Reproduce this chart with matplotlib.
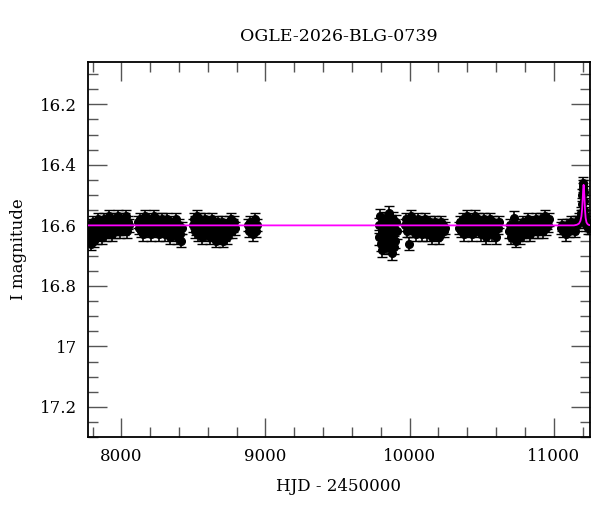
import matplotlib
matplotlib.use("Agg")
import matplotlib.pyplot as plt
from matplotlib.ticker import MultipleLocator
import numpy as np

# photometry, one list per observing season (HJD - 2450000, I mag)
t1 = [7772, 7778, 7783, 7789, 7794, 7800, 7805, 7811, 7817, 7822, 7828, 7834, 7839, 7845, 7851, 7856, 7862,
      7868, 7873, 7879, 7885, 7890, 7896, 7902, 7907, 7913, 7919, 7924, 7930, 7936, 7941, 7947, 7953, 7958,
      7964, 7970, 7975, 7981, 7987, 7992, 7998, 8004, 8010, 8016, 8022, 8028, 8034, 8040, 8046, 8052]
m1 = [16.62, 16.64, 16.60, 16.66, 16.61, 16.63, 16.59, 16.65, 16.62, 16.60, 16.64, 16.61, 16.58, 16.63, 16.60,
      16.62, 16.59, 16.64, 16.61, 16.58, 16.62, 16.60, 16.63, 16.59, 16.61, 16.57, 16.62, 16.60, 16.58, 16.63,
      16.60, 16.61, 16.58, 16.62, 16.59, 16.60, 16.57, 16.61, 16.59, 16.62, 16.58, 16.60, 16.59, 16.61, 16.58,
      16.60, 16.57, 16.62, 16.59, 16.60]
t2 = [8118, 8124, 8131, 8138, 8144, 8151, 8158, 8164, 8171, 8178, 8184, 8191, 8198, 8204, 8211, 8218, 8224,
      8231, 8238, 8244, 8251, 8258, 8264, 8271, 8278, 8284, 8291, 8298, 8304, 8311, 8318, 8324, 8331, 8338,
      8344, 8351, 8358, 8364, 8371, 8378, 8384, 8391, 8398, 8405, 8412, 8418]
m2 = [16.59, 16.61, 16.58, 16.62, 16.60, 16.63, 16.59, 16.57, 16.61, 16.60, 16.62, 16.58, 16.60, 16.63, 16.59,
      16.61, 16.57, 16.62, 16.60, 16.58, 16.61, 16.63, 16.59, 16.60, 16.62, 16.58, 16.61, 16.59, 16.63, 16.60,
      16.58, 16.62, 16.60, 16.64, 16.59, 16.61, 16.63, 16.60, 16.62, 16.58, 16.64, 16.61, 16.60, 16.63, 16.65,
      16.61]
t3 = [8494, 8501, 8508, 8514, 8521, 8528, 8534, 8541, 8548, 8554, 8561, 8568, 8574, 8581, 8588, 8594, 8601,
      8608, 8614, 8621, 8628, 8634, 8641, 8648, 8654, 8661, 8668, 8674, 8681, 8688, 8694, 8701, 8708, 8714,
      8721, 8728, 8734, 8741, 8748, 8754, 8761, 8768, 8774, 8781, 8788]
m3 = [16.60, 16.58, 16.62, 16.59, 16.61, 16.57, 16.63, 16.60, 16.58, 16.62, 16.64, 16.59, 16.61, 16.58, 16.63,
      16.60, 16.62, 16.59, 16.64, 16.61, 16.58, 16.63, 16.60, 16.62, 16.65, 16.61, 16.59, 16.63, 16.60, 16.64,
      16.62, 16.59, 16.65, 16.61, 16.63, 16.60, 16.64, 16.62, 16.59, 16.61, 16.58, 16.62, 16.60, 16.59, 16.61]
t4 = [8880, 8888, 8896, 8904, 8912, 8920, 8928, 8936, 8944]
m4 = [16.60, 16.62, 16.59, 16.61, 16.63, 16.60, 16.58, 16.62, 16.60]
t5 = [9785, 9790, 9795, 9800, 9805, 9810, 9815, 9820, 9825, 9830, 9835, 9840, 9845, 9850, 9855, 9860, 9865,
      9870, 9875, 9880, 9885, 9890, 9895, 9900, 9905, 9910]
m5 = [16.60, 16.64, 16.57, 16.66, 16.62, 16.68, 16.59, 16.63, 16.65, 16.58, 16.61, 16.67, 16.60, 16.64, 16.56,
      16.62, 16.66, 16.59, 16.69, 16.63, 16.58, 16.67, 16.61, 16.65, 16.59, 16.62]
t6 = [9965, 9972, 9979, 9986, 9993, 10000, 10007, 10014, 10021, 10028, 10035, 10042, 10049, 10056, 10063,
      10070, 10077, 10084, 10091, 10098, 10105, 10112, 10119, 10126, 10133, 10140, 10147, 10154, 10161, 10168,
      10175, 10182, 10189, 10196, 10203, 10210, 10217, 10224, 10231, 10238, 10245]
m6 = [16.60, 16.58, 16.62, 16.59, 16.66, 16.61, 16.57, 16.60, 16.62, 16.59, 16.61, 16.63, 16.60, 16.58, 16.62,
      16.61, 16.59, 16.63, 16.60, 16.62, 16.58, 16.61, 16.63, 16.60, 16.62, 16.59, 16.61, 16.64, 16.60, 16.62,
      16.59, 16.63, 16.61, 16.60, 16.64, 16.62, 16.59, 16.61, 16.60, 16.62, 16.61]
t7 = [10340, 10347, 10354, 10361, 10368, 10375, 10382, 10389, 10396, 10403, 10410, 10417, 10424, 10431, 10438,
      10445, 10452, 10459, 10466, 10473, 10480, 10487, 10494, 10501, 10508, 10515, 10522, 10529, 10536, 10543,
      10550, 10557, 10564, 10571, 10578, 10585, 10592, 10599, 10606, 10613, 10620]
m7 = [16.61, 16.59, 16.62, 16.60, 16.58, 16.63, 16.61, 16.59, 16.57, 16.62, 16.60, 16.58, 16.61, 16.63, 16.59,
      16.60, 16.57, 16.62, 16.60, 16.58, 16.61, 16.59, 16.63, 16.60, 16.62, 16.58, 16.61, 16.64, 16.59, 16.60,
      16.62, 16.58, 16.61, 16.63, 16.59, 16.60, 16.62, 16.64, 16.60, 16.61, 16.59]
t8 = [10690, 10697, 10704, 10711, 10718, 10725, 10732, 10739, 10746, 10753, 10760, 10767, 10774, 10781, 10788,
      10795, 10802, 10809, 10816, 10823, 10830, 10837, 10844, 10851, 10858, 10865, 10872, 10879, 10886, 10893,
      10900, 10907, 10914, 10921, 10928, 10935, 10942, 10949, 10956, 10963, 10970]
m8 = [16.62, 16.60, 16.64, 16.61, 16.63, 16.575, 16.62, 16.65, 16.60, 16.63, 16.61, 16.64, 16.60, 16.62, 16.59,
      16.63, 16.61, 16.60, 16.62, 16.58, 16.61, 16.63, 16.60, 16.59, 16.62, 16.60, 16.61, 16.58, 16.60, 16.62,
      16.59, 16.61, 16.58, 16.60, 16.62, 16.59, 16.57, 16.61, 16.59, 16.60, 16.58]
t9 = [11050, 11058, 11066, 11074, 11082, 11090, 11098, 11106, 11114, 11122, 11130, 11138, 11146, 11154, 11162,
      11170, 11178, 11186, 11192, 11196, 11199, 11202, 11204, 11206, 11208, 11210, 11213, 11216, 11220, 11225,
      11230, 11236, 11242, 11248]
m9 = [16.61, 16.60, 16.62, 16.61, 16.63, 16.60, 16.61, 16.62, 16.60, 16.59, 16.61, 16.60, 16.62, 16.59, 16.60,
      16.59, 16.58, 16.57, 16.56, 16.53, 16.50, 16.48, 16.46, 16.47, 16.49, 16.52, 16.55, 16.57, 16.58, 16.60,
      16.59, 16.61, 16.60, 16.61]
# typical photometric error per season
season_err = [0.022, 0.02, 0.021, 0.02, 0.025, 0.02, 0.02, 0.021, 0.02]

# microlensing model curve
model_t = [7700, 11140, 11160, 11175, 11185, 11192, 11197, 11201, 11204, 11207, 11210, 11213, 11217,
           11221, 11227, 11235, 11245, 11300]
model_m = [16.60, 16.60, 16.598, 16.594, 16.585, 16.57, 16.545, 16.51, 16.48, 16.466, 16.48, 16.51, 16.55,
           16.575, 16.59, 16.596, 16.599, 16.60]

title = "OGLE-2026-BLG-0739"

plt.rcParams['font.family'] = 'DejaVu Serif'

fig = plt.figure(figsize=(6, 5.12), dpi=100)
ax = fig.add_axes([0.147, 0.146, 0.836, 0.733])

seasons = [(t1, m1), (t2, m2), (t3, m3), (t4, m4), (t5, m5), (t6, m6), (t7, m7), (t8, m8), (t9, m9)]
for (t, m), e in zip(seasons, season_err):
    ax.errorbar(t, m, yerr=e, fmt='o', color='black', ms=5.5, elinewidth=1.2, capsize=3.5, capthick=1)

ax.plot(model_t, model_m, color='#ff00ff', lw=1.3, zorder=5)

ax.set_xlim(7770, 11250)
ax.set_ylim(17.3, 16.06)
ax.xaxis.set_major_locator(MultipleLocator(1000))
ax.xaxis.set_minor_locator(MultipleLocator(200))
ax.yaxis.set_major_locator(MultipleLocator(0.2))
ax.yaxis.set_minor_locator(MultipleLocator(0.05))
ax.yaxis.set_major_formatter(plt.FuncFormatter(lambda v, p: ('%.1f' % v).rstrip('0').rstrip('.')))

ax.tick_params(which='both', direction='in', top=True, right=True, color='#555555', width=1, labelsize=12)
ax.tick_params(which='major', length=14, pad=8)
ax.tick_params(which='minor', length=7)
for s in ax.spines.values():
    s.set_linewidth(1.3)

ax.set_xlabel("HJD - 2450000", fontsize=12, labelpad=9)
ax.set_ylabel("I magnitude", fontsize=12, labelpad=9)
ax.set_title(title, fontsize=12.5, pad=15)

fig.savefig("out.png", dpi=100)
